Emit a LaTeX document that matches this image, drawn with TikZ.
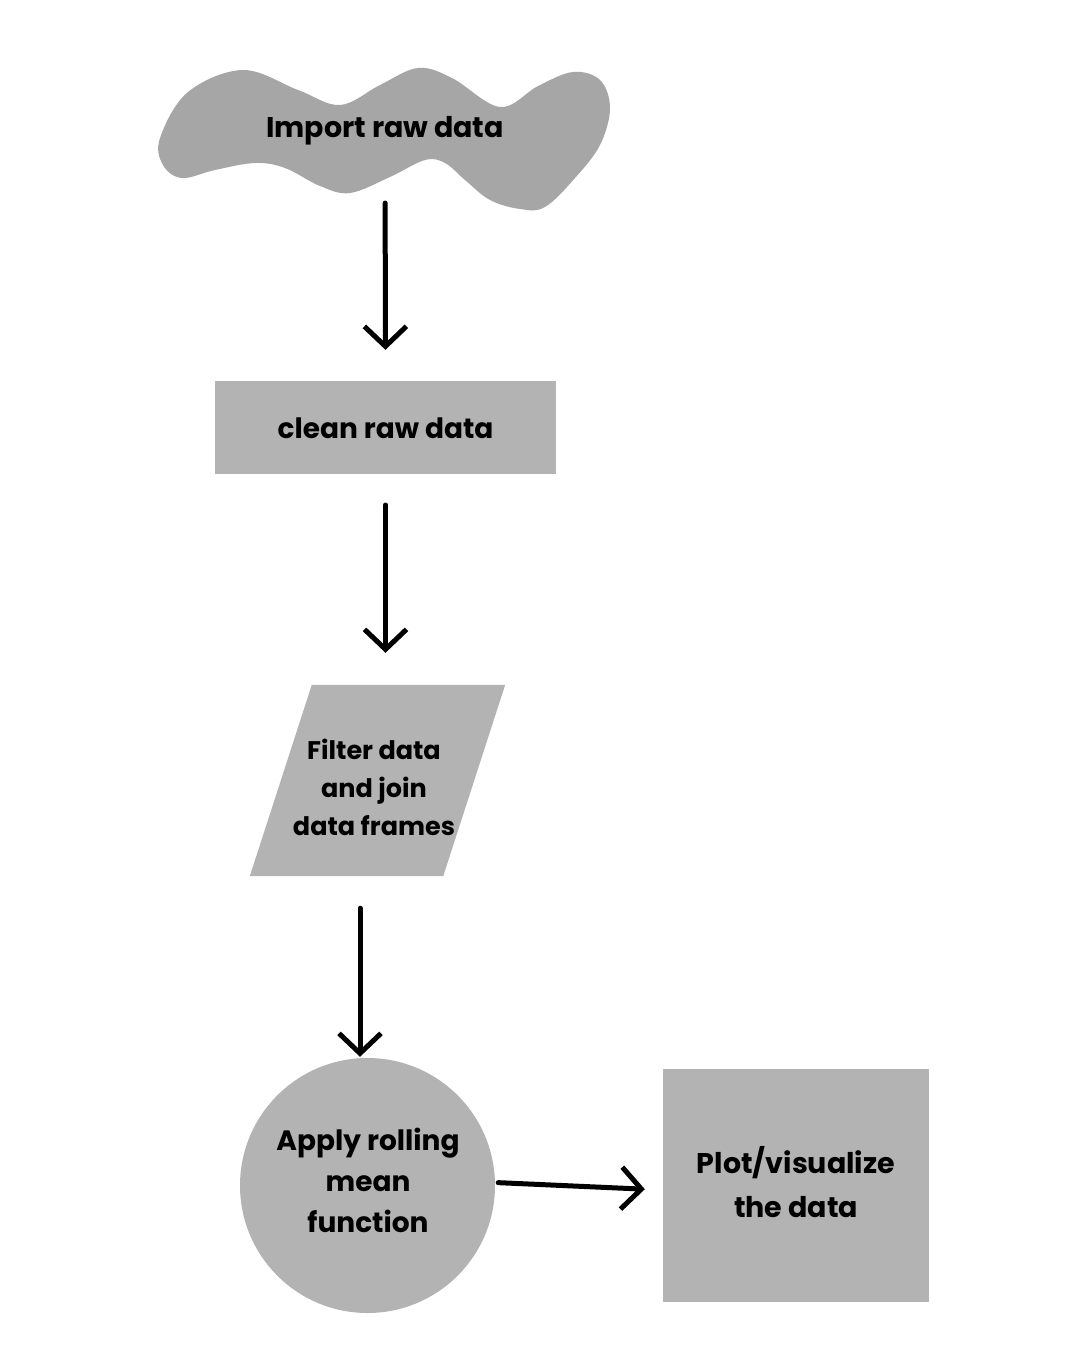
\documentclass[tikz,border=0pt]{standalone}
\usepackage{fontspec}
\setmainfont{Poppins}
\usetikzlibrary{arrows.meta}
\definecolor{cloudgray}{HTML}{A6A6A6}
\definecolor{boxgray}{HTML}{B3B3B3}
\begin{document}
\begin{tikzpicture}[x=1pt,y=-1pt,
  lbl/.style={font=\bfseries\fontsize{28}{41}\selectfont, align=center, text=black, inner sep=0pt},
  boxnode/.style={fill=boxgray, inner sep=0pt},
  arr/.style={line width=5pt, line cap=round, line join=round, -{Straight Barb[length=20pt,width=42pt]}}
]
\useasboundingbox (0,0) rectangle (1080,1350);
\fill[white] (0,0) rectangle (1080,1350);
% cloud shape
\fill[cloudgray] plot[smooth cycle, tension=0.6] coordinates {
  (160,138) (188,92) (243,70) (298,90) (340,105) (380,85) (418,68) (452,78)
  (500,107) (538,86) (573,72) (600,80) (610,108) (600,145) (575,178) (545,207)
  (520,209) (490,200) (465,180) (445,163) (425,160) (390,177) (350,193)
  (320,186) (285,168) (255,163) (215,170) (182,178) (163,165)};
\node[lbl, font=\bfseries\fontsize{28.5}{41}\selectfont] (import) at (385,131) {Import raw data};
\node[boxnode, minimum width=341pt, minimum height=93pt] (clean) at (385.5,427.5) {};
\node[lbl] (cleantxt) at (385.5,428) {clean raw data};
% parallelogram
\node[minimum width=255pt, minimum height=191pt, inner sep=0pt] (filter) at (377.5,780.5) {};
\fill[boxgray] ([xshift=62pt]filter.north west) -- (filter.north east)
  -- ([xshift=-62pt]filter.south east) -- (filter.south west) -- cycle;
\node[lbl, font=\bfseries\fontsize{25.5}{38}\selectfont] (filtertxt) at (374,787) {Filter data\\and join\\data frames};
\node[circle, fill=boxgray, minimum size=255pt, inner sep=0pt] (roll) at (367.5,1185.5) {};
\node[lbl] (rolltxt) at (368,1180) {Apply rolling\\mean\\function};
\node[boxnode, minimum width=266pt, minimum height=233pt] (plot) at (796,1185.5) {};
\node[lbl, font=\bfseries\fontsize{28.5}{44}\selectfont] (plottxt) at (796,1182) {Plot/visualize\\the data};
% connectors
\draw[arr, shorten <=72pt, shorten >=31pt] (import.center) -- (clean.north);
\draw[arr, shorten <=77.5pt, shorten >=32pt] (clean.center) -- (clean.center |- filter.north);
\draw[arr, shorten <=32pt, shorten >=1pt] ([xshift=-7.5pt]roll.north |- filter.south) -- ([xshift=-7.5pt]roll.north);
\draw[arr, shorten <=3pt, shorten >=18pt] ([yshift=3pt]roll.east) -- ([yshift=-4.5pt]plot.west);
\end{tikzpicture}
\end{document}
